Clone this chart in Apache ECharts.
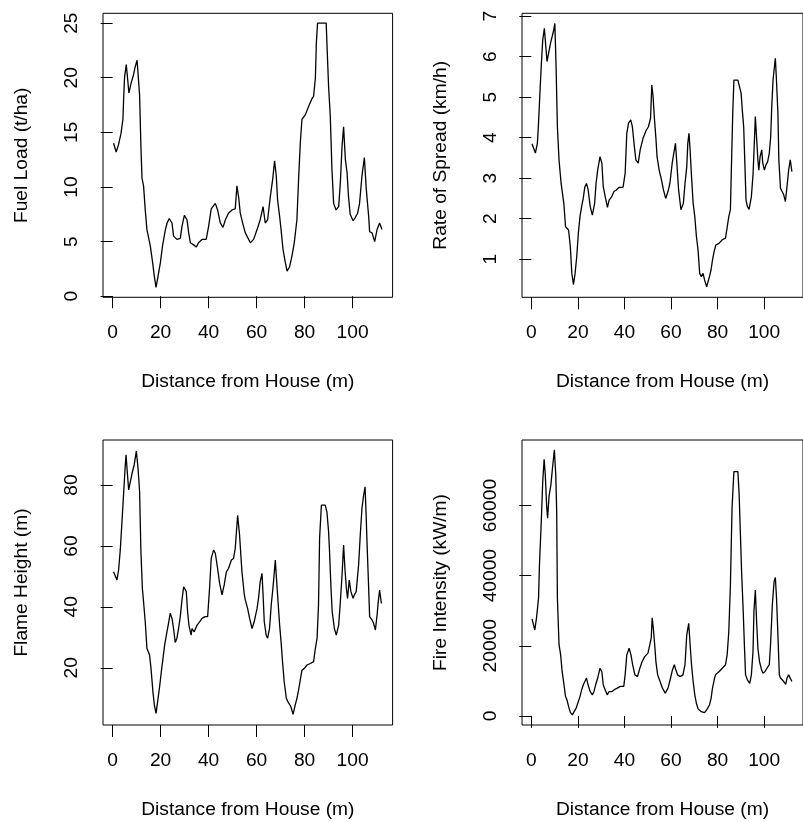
<!DOCTYPE html>
<html>
<head>
<meta charset="utf-8">
<script src="https://cdn.jsdelivr.net/npm/echarts@6/dist/echarts.min.js"></script>
<style>
html,body{margin:0;padding:0;background:#fff;}
#c{width:803px;height:822px;}
</style>
</head>
<body>
<div id="c"></div>
<script>
// ---- data ----
const distTicks = [0, 20, 40, 60, 80, 100];
const fuelTicks = [0, 5, 10, 15, 20, 25];
const rosTicks = [1, 2, 3, 4, 5, 6, 7];
const flameTicks = [20, 40, 60, 80];
const intensityTicks = [0, 20000, 40000, 60000];

const fuelDist = [0.4,1.5,2.5,3.5,4.3,4.6,5.0,5.7,6.3,6.8,7.7,8.75,9.3,10.2,11.25,11.8,12.25,12.9,13.6,14.3,15.7,16.7,17.4,18.1,18.9,19.9,20.8,22.0,22.7,23.6,24.75,25.4,26.8,28.2,28.9,29.9,31.0,31.7,32.4,33.75,34.9,35.8,37.25,39.0,40.0,41.1,42.8,43.75,44.9,46.0,47.0,48.3,49.75,51.1,51.8,52.5,53.2,54.3,55.3,57.4,58.75,60.2,61.5,62.7,63.6,64.6,65.7,66.7,67.5,68.2,68.75,69.6,70.2,71.0,72.0,72.7,73.75,74.75,75.7,76.8,77.5,78.2,78.9,80.3,81.7,83.1,83.75,84.5,84.9,85.4,89.0,89.3,90.0,90.7,91.4,92.1,93.1,94.2,94.9,95.6,96.25,97.0,97.7,98.3,99.0,100.2,101.1,102.1,102.9,103.9,104.9,105.7,106.7,107.1,108.1,109.2,110.2,111.25,112.25];
const fuelLoad = [14.0,13.2,13.9,14.9,16.2,18.1,20.1,21.2,19.8,18.6,19.5,20.3,20.9,21.6,18.4,13.7,10.8,10.1,7.9,6.1,4.6,3.05,1.8,0.8,1.8,3.05,4.6,6.1,6.7,7.1,6.7,5.5,5.2,5.3,6.4,7.4,7.0,5.8,4.9,4.7,4.5,4.9,5.2,5.2,6.4,8.0,8.5,7.9,6.7,6.3,7.0,7.6,7.9,8.0,10.1,9.1,7.6,6.6,5.8,4.9,5.2,6.1,7.0,8.2,6.7,7.0,9.1,10.7,12.4,11.0,8.8,7.3,6.1,4.3,3.05,2.3,2.7,3.7,4.9,7.0,10.7,14.0,16.2,16.6,17.4,18.1,18.3,20.0,23.2,25.0,25.0,23.2,19.2,16.5,11.6,8.5,7.9,8.2,10.4,13.7,15.5,12.5,11.3,9.1,7.5,6.9,7.2,7.6,8.5,11.0,12.7,9.8,7.3,5.9,5.8,5.0,6.1,6.7,6.1];

const rosDist = [0.3,1.75,2.6,3.1,3.7,4.25,4.9,5.6,6.0,6.75,7.4,8.4,9.5,10.1,10.6,11.2,11.9,12.8,13.96,14.7,16.0,16.75,17.4,18.1,18.8,19.5,20.2,20.9,21.6,22.3,23.0,23.7,24.4,25.3,26.2,27.2,27.8,28.5,29.5,30.3,30.9,31.75,32.7,33.4,34.5,35.5,36.5,37.6,39.4,40.3,41.0,41.75,42.7,43.4,44.25,44.9,45.9,46.75,48.0,49.4,50.3,51.2,51.75,52.3,52.8,53.5,54.0,54.9,55.9,56.75,57.7,58.7,59.5,60.5,61.2,61.9,62.6,63.25,64.25,65.3,66.0,66.75,67.2,67.7,68.1,68.8,69.5,70.2,70.9,71.6,72.3,73.0,73.75,74.4,75.3,76.5,77.2,77.8,78.5,79.25,80.6,82.0,83.4,84.1,84.8,85.5,85.9,86.5,87.0,88.7,89.4,90.1,90.6,91.2,91.75,92.2,92.8,93.5,94.5,95.2,95.6,96.2,96.75,97.3,97.7,98.25,98.96,99.4,100.1,100.75,101.5,102.2,102.8,103.25,103.8,104.4,104.8,105.2,105.9,106.3,107.0,107.7,108.4,109.1,109.8,110.5,111.2,111.9];
const rosValue = [3.85,3.62,3.86,4.36,5.10,5.75,6.41,6.70,6.41,5.88,6.08,6.37,6.62,6.82,5.84,4.27,3.45,2.87,2.38,1.80,1.72,1.31,0.65,0.37,0.65,1.06,1.64,2.05,2.30,2.50,2.79,2.87,2.71,2.30,2.09,2.38,2.87,3.20,3.53,3.37,2.79,2.54,2.28,2.46,2.54,2.67,2.71,2.77,2.78,3.12,4.11,4.36,4.44,4.27,3.78,3.45,3.37,3.70,3.99,4.19,4.27,4.48,5.30,5.01,4.52,3.99,3.53,3.20,2.96,2.71,2.50,2.67,2.87,3.37,3.62,3.86,3.28,2.71,2.22,2.38,2.87,3.28,3.86,4.11,3.78,3.04,2.38,2.05,1.56,1.23,0.65,0.57,0.65,0.49,0.32,0.57,0.74,0.98,1.19,1.35,1.39,1.48,1.52,1.56,2.05,2.22,3.20,4.60,5.42,5.42,5.26,5.10,4.68,4.27,3.28,2.46,2.30,2.23,2.54,3.08,3.62,4.52,3.99,3.45,3.20,3.53,3.70,3.37,3.20,3.33,3.41,3.62,4.03,4.77,5.42,5.75,5.96,5.51,4.60,3.45,2.75,2.71,2.59,2.42,2.79,3.20,3.45,3.16];

const flameDist = [0.4,1.8,2.5,3.2,3.9,4.6,5.2,5.6,6.0,6.7,7.4,8.1,9.0,9.9,10.6,11.25,11.8,12.4,12.9,13.6,14.3,15.4,16.0,16.8,17.4,18.1,18.75,19.5,20.3,21.0,21.7,22.4,23.3,24.0,24.75,25.4,26.1,26.8,27.5,28.2,28.9,29.6,30.7,31.25,31.8,32.7,33.1,34.0,35.2,36.25,37.25,38.6,39.6,40.4,41.1,42.1,42.8,43.75,44.6,45.6,46.5,47.4,48.3,49.5,50.4,51.1,51.8,52.1,52.9,53.9,54.9,55.3,56.25,57.1,58.1,59.0,60.2,60.8,61.5,62.25,62.7,63.2,64.0,64.6,65.4,66.1,66.8,67.4,67.8,68.2,68.75,69.6,70.2,70.8,71.5,72.4,73.1,73.75,74.3,75.2,76.1,76.8,77.5,78.2,78.9,79.9,81.0,82.4,83.75,84.5,85.2,85.8,86.25,87.0,88.6,89.3,90.0,90.4,91.0,91.5,92.4,93.2,94.2,94.9,95.6,96.25,96.8,97.4,97.9,98.6,99.3,100.2,100.7,101.5,102.5,103.2,103.9,104.6,105.2,105.6,106.0,106.7,107.1,108.1,108.75,109.5,110.2,110.7,111.25,112.0];
const flameHeight = [51.5,48.8,52.1,58.7,67.9,77.3,85.5,89.9,85.5,78.4,81.1,83.8,86.6,91.2,85.5,77.8,58.1,46.1,41.7,35.1,26.4,24.2,19.8,12.1,7.8,5.0,8.8,13.2,18.7,23.1,27.5,30.7,34.6,37.9,36.2,32.9,28.3,29.7,32.9,36.8,42.2,46.6,45.0,38.4,34.0,30.7,32.9,31.8,34.0,35.1,36.2,36.8,36.8,46.1,55.9,58.7,57.6,52.6,47.7,43.9,47.2,51.5,52.6,55.4,55.9,59.2,66.9,70.1,63.6,51.5,43.9,42.2,39.5,36.2,32.9,35.1,39.5,42.8,48.2,51.0,43.9,35.1,30.7,29.7,32.9,40.6,46.1,51.5,55.4,50.4,43.9,34.0,28.5,22.0,15.4,9.9,8.8,8.8,7.2,4.7,7.8,9.9,12.7,16.0,19.2,19.8,20.9,21.4,22.0,26.4,29.7,40.6,62.5,73.4,73.4,71.2,64.7,58.1,46.1,38.4,32.9,30.7,34.0,41.7,50.4,60.3,52.6,46.1,42.8,48.8,45.0,42.8,43.9,45.0,53.7,63.6,72.3,76.7,79.4,71.2,61.4,46.1,36.8,35.7,34.6,32.4,37.3,41.7,45.5,41.1];

const intensityDist = [0.3,1.5,2.3,3.1,3.5,4.25,4.9,5.5,6.0,6.6,7.0,7.6,8.4,9.1,9.9,10.5,10.9,11.2,11.9,12.6,13.25,13.96,14.7,15.3,16.0,16.75,17.6,18.4,19.25,20.2,20.9,21.6,22.3,23.0,23.7,24.4,25.3,26.2,26.9,27.6,28.5,29.5,30.3,30.9,31.75,32.6,33.4,34.5,35.5,36.9,38.25,39.7,40.3,41.0,42.0,42.8,43.5,44.5,45.6,46.6,47.6,48.7,50.1,50.75,51.5,51.9,52.4,53.1,53.5,54.25,55.3,56.3,57.5,58.7,59.8,60.6,61.4,62.0,62.8,63.96,65.1,66.0,66.75,67.6,68.1,68.8,69.5,70.2,70.9,71.6,73.0,74.4,75.3,76.5,77.2,77.8,78.7,79.25,80.6,82.0,83.4,84.1,84.8,85.5,86.2,87.0,88.7,89.25,89.8,90.3,91.0,91.5,92.0,92.8,93.8,94.5,95.2,95.6,96.2,96.75,97.3,98.0,98.7,99.4,100.3,101.2,102.2,102.8,103.5,104.25,104.8,105.3,105.9,106.5,107.0,107.7,108.4,109.25,109.8,110.5,111.2,111.9];
const fireIntensity = [27700,24500,28300,33600,43100,55000,66800,73200,68800,59700,56400,62600,65900,70700,75900,68800,58300,33600,20300,17400,12600,9300,5500,4600,2700,1000,300,800,2200,4100,5500,7400,8800,9800,10800,8800,6900,6000,6900,8800,10800,13600,12600,8800,7400,6000,6900,6900,7400,7900,8400,8400,11700,17400,19300,17400,14600,11700,11200,13600,15500,16900,17900,18300,22200,28000,25000,19300,15500,11700,9800,7900,6500,7900,10800,13100,14600,13300,11700,11200,11700,14600,23100,26400,21200,14600,9800,6000,3600,2000,1200,900,1700,3100,5000,7900,10800,11900,12600,13600,14600,17400,24000,37400,59300,69700,69700,63100,51600,41200,29800,20300,11700,10300,9300,11700,18300,29800,35900,26900,19300,15500,13600,12200,12600,13600,14600,21200,31700,38300,39500,33600,23100,11700,10800,10300,9800,9000,10800,11700,12200,9800];

const xName = 'Distance from House (m)';
const yNames = ['Fuel Load (t/ha)', 'Rate of Spread (km/h)', 'Flame Height (m)', 'Fire Intensity (kW/m)'];

// ---- chart ----
const FONT = "'Liberation Sans', Arial, sans-serif";
const FS = 19.2;
const panels = [
  {left: 103, top: 13.3, h: 284, xs: fuelDist, ys: fuelLoad, yMin: -0.1, yMax: 25.9, ticks: fuelTicks},
  {left: 522, top: 13.3, h: 284, xs: rosDist, ys: rosValue, yMin: 0.06, yMax: 7.07, ticks: rosTicks},
  {left: 103, top: 440, h: 285, xs: flameDist, ys: flameHeight, yMin: 1.2, yMax: 94.8, ticks: flameTicks},
  {left: 522, top: 440, h: 285, xs: intensityDist, ys: fireIntensity, yMin: -2600, yMax: 78700, ticks: intensityTicks}
];

const plain = v => String(v);
const chart = echarts.init(document.getElementById('c'), null, {renderer: 'canvas'});
const grid = [], xAxis = [], yAxis = [], series = [];
panels.forEach((p, i) => {
  grid.push({left: p.left, top: p.top, width: 289.6, height: p.h, show: true,
    borderColor: '#000', borderWidth: 1, backgroundColor: 'transparent', containLabel: false});
  xAxis.push({type: 'value', gridIndex: i, min: -4, max: 116.67,
    name: xName, nameLocation: 'middle', nameGap: 75,
    nameTextStyle: {color: '#000', fontFamily: FONT, fontSize: FS},
    axisLine: {show: false}, splitLine: {show: false},
    axisTick: {show: true, inside: false, length: 12, customValues: distTicks, lineStyle: {color: '#000', width: 1}},
    axisLabel: {show: true, margin: 26, customValues: distTicks, formatter: plain, color: '#000', fontFamily: FONT, fontSize: FS}
  });
  yAxis.push({type: 'value', gridIndex: i, min: p.yMin, max: p.yMax,
    name: yNames[i], nameLocation: 'middle', nameGap: 72, nameRotate: 90,
    nameTextStyle: {color: '#000', fontFamily: FONT, fontSize: FS},
    axisLine: {show: false}, splitLine: {show: false},
    axisTick: {show: true, inside: false, length: 12, customValues: p.ticks, lineStyle: {color: '#000', width: 1}},
    axisLabel: {show: true, margin: 22, rotate: 90, customValues: p.ticks, formatter: plain, color: '#000', fontFamily: FONT, fontSize: FS}
  });
  series.push({type: 'line', xAxisIndex: i, yAxisIndex: i, showSymbol: false, symbol: 'none',
    smooth: false, clip: true, silent: true,
    lineStyle: {color: '#000', width: 1.3},
    data: p.xs.map((x, k) => [x, p.ys[k]])});
});

chart.setOption({animation: false, backgroundColor: '#fff', grid, xAxis, yAxis, series});
</script>
</body>
</html>
